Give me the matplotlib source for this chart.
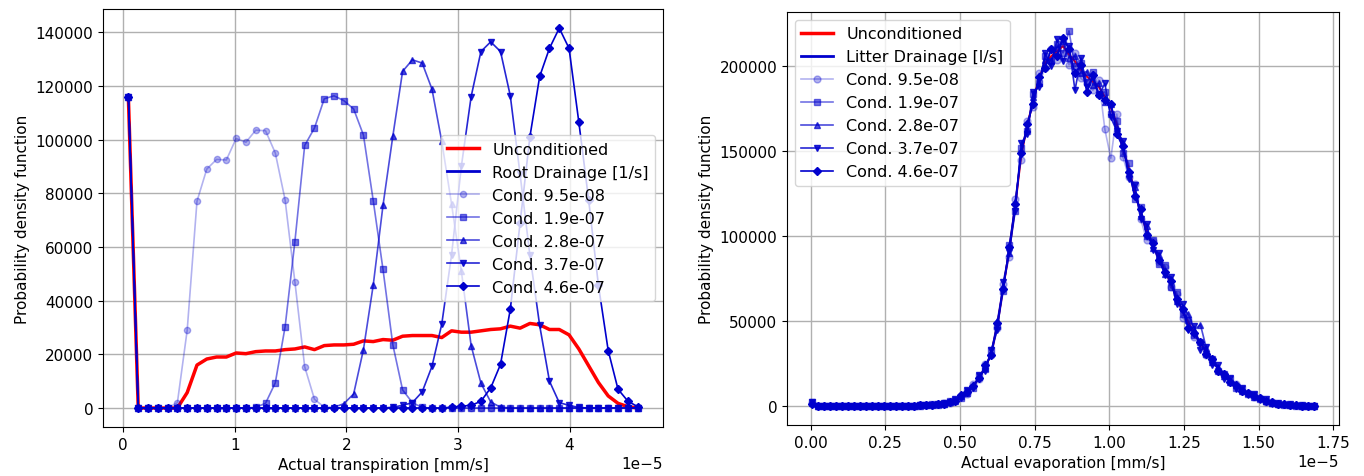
import numpy as np
import matplotlib.pyplot as plt

# conductance values used for the conditioned runs
cond_labels = ['Cond. 9.5e-08', 'Cond. 1.9e-07', 'Cond. 2.8e-07', 'Cond. 3.7e-07', 'Cond. 4.6e-07']
markers = ['o', 's', '^', 'v', 'D']
alphas = [0.3, 0.55, 0.7, 0.85, 1.0]

#############################################################################################
# transpiration pdf (bin centres in mm/s)
x_transp = np.linspace(0.048e-5, 4.61e-5, 53)

transp_uncond = [115000] + [0]*5 + [5750, 16000, 18250, 19000, 19000, 20500, 20250, 21000, 21250, 21250,
                                   21750, 22000, 22750, 21750, 23250, 23500, 23500, 23750, 25000, 24750,
                                   25500, 25250, 26750, 27000, 27000, 27000, 26250, 28750, 28250, 28250,
                                   28750, 29250, 29500, 30500, 29750, 31500, 31000, 29250, 29250, 27250,
                                   22000, 15750, 9500, 4500, 1750, 500, 0]
transp_c1 = [116000] + [0]*4 + [2000, 29000, 77000, 89000, 92600, 92400, 100400, 99000, 103500, 103300,
                               95000, 77500, 47000, 15400, 3250, 300] + [0]*32
transp_c2 = [116000] + [0]*12 + [250, 1750, 9400, 30250, 62000, 97800, 104300, 115200, 116300, 114500,
                                111400, 101700, 77300, 51600, 23600, 6750, 2000, 200] + [0]*22
transp_c3 = [116000] + [0]*20 + [300, 1600, 5250, 21750, 45750, 75500, 101200, 125400, 129700, 128500,
                                118800, 99300, 76000, 51000, 23250, 9250, 2250, 300] + [0]*14
transp_c4 = [116000] + [0]*26 + [300, 1000, 2000, 6000, 15500, 31250, 57000, 90000, 116000, 132800,
                                136400, 132800, 116300, 87000, 57000, 30750, 10000, 2000, 1000, 200] + [0]*6
transp_c5 = [116000] + [0]*32 + [300, 700, 1000, 2500, 7500, 16250, 36750, 69000, 101000, 123500,
                                134000, 141500, 134000, 106500, 77600, 45750, 21400, 7000, 2600, 500]
transp_cond = [transp_c1, transp_c2, transp_c3, transp_c4, transp_c5]

#############################################################################################
# evaporation pdf (bin centres in mm/s)
x_evap = np.linspace(0.005e-5, 1.685e-5, 85)

evap_uncond = [2500, 200] + [0]*13 + [100, 200, 300, 500, 700, 900, 1100] + [
    1500, 2500, 3500, 5500, 8000, 12000, 17000, 23000, 31000, 48000,
    70000, 92000, 118000, 148000, 165000, 180000, 193000, 202000, 206000, 209000,
    212000, 207000, 203000, 198000, 194000, 191000, 188000, 182000, 176000, 166000,
    152000, 140000, 126000, 114000, 103000, 95000, 87000, 80000, 73000, 64000,
    56000, 49000, 43000, 37000, 32000, 27000, 22000, 18000, 15000, 12000,
    9500, 7500, 6000, 4500, 3000, 2000, 1500, 1000, 700, 500,
    300, 200, 100]
evap_c1 = [2000, 0] + [0]*13 + [100, 200, 400, 600, 800, 1000, 1300] + [
    1800, 2000, 3000, 6000, 7000, 13000, 16000, 25000, 30000, 46000,
    72000, 88000, 122000, 145000, 168000, 176000, 196000, 199000, 210000, 204000,
    214000, 201000, 208000, 193000, 190000, 186000, 192000, 163000, 146000, 172000,
    147000, 135000, 131000, 110000, 98000, 97000, 85000, 82000, 70000, 66000,
    52000, 50000, 41000, 38000, 30000, 28000, 21000, 19000, 14000, 13000,
    9000, 8000, 5500, 5000, 2500, 2500, 1200, 1200, 500, 600,
    200, 300, 100]
evap_c2 = [2500, 100] + [0]*13 + [200, 300, 200, 600, 700, 1100, 1000] + [
    1400, 2800, 3800, 5000, 9000, 11000, 18000, 22000, 33000, 47000,
    68000, 95000, 115000, 152000, 162000, 184000, 190000, 206000, 203000, 213000,
    208000, 221000, 200000, 202000, 191000, 197000, 184000, 185000, 172000, 168000,
    149000, 143000, 122000, 117000, 100000, 98000, 84000, 83000, 70000, 67000,
    54000, 51000, 42000, 38000, 31000, 28000, 21000, 19000, 16000, 11000,
    10000, 7000, 6500, 4000, 3200, 1800, 1600, 900, 800, 400,
    400, 100, 200]
evap_c3 = [2000, 0] + [0]*13 + [100, 200, 300, 400, 700, 900, 1200] + [
    1600, 2300, 3300, 6000, 7500, 12500, 17500, 22500, 31500, 50000,
    71000, 90000, 120000, 150000, 163000, 182000, 190000, 204000, 204000, 211000,
    215000, 205000, 206000, 196000, 197000, 189000, 190000, 179000, 178000, 164000,
    155000, 137000, 129000, 112000, 106000, 93000, 89000, 78000, 75000, 62000,
    58000, 54000, 45000, 48000, 34000, 26000, 23000, 18000, 14500, 12500,
    9000, 8000, 5500, 4800, 2800, 2100, 1400, 1100, 600, 500,
    300, 200, 100]
evap_c4 = [2500, 0] + [0]*13 + [200, 100, 400, 500, 600, 1000, 1100] + [
    1700, 2200, 4000, 5000, 9500, 11000, 18500, 21000, 33000, 45000,
    73000, 91000, 115000, 155000, 160000, 185000, 188000, 208000, 200000, 216000,
    203000, 212000, 186000, 205000, 188000, 193000, 183000, 190000, 170000, 162000,
    156000, 134000, 130000, 110000, 107000, 92000, 90000, 77000, 76000, 60000,
    60000, 45000, 47000, 33000, 35000, 24000, 24000, 16000, 16500, 10000,
    11000, 6500, 7000, 3500, 4000, 1500, 2000, 700, 1200, 300,
    500, 100, 200]
evap_c5 = [1500, 0] + [0]*13 + [0, 200, 200, 500, 800, 800, 1300] + [
    1400, 2600, 3200, 6500, 8500, 12000, 16500, 24000, 30000, 49000,
    69000, 94000, 119000, 149000, 166000, 178000, 194000, 199000, 210000, 206000,
    217000, 210000, 196000, 201000, 185000, 195000, 183000, 180000, 178000, 160000,
    153000, 138000, 124000, 116000, 101000, 96000, 86000, 79000, 74000, 63000,
    57000, 46000, 43000, 38000, 31000, 28000, 21000, 19000, 14000, 12500,
    9000, 7800, 5800, 4600, 2900, 2200, 1400, 1100, 600, 500,
    300, 200, 0]
evap_cond = [evap_c1, evap_c2, evap_c3, evap_c4, evap_c5]

####################################################################################################
# plot
plt.rcParams['font.size'] = 11

fig = plt.figure(figsize=(13.64, 4.77), dpi=100)
ax1 = fig.add_axes([0.0755, 0.1027, 0.4106, 0.876])
ax2 = fig.add_axes([0.577, 0.1069, 0.4047, 0.8658])


def draw_panel(ax, x, uncond, conds, drain_label, xlabel, loc, red_lw, msize):
    ax.plot(x, uncond, color='red', lw=red_lw, label='Unconditioned')
    ax.plot([], [], color='mediumblue', lw=2, label=drain_label)
    for vals, lab, m, a in zip(conds, cond_labels, markers, alphas):
        ms = msize - 0.5 if m == 'D' else msize
        ax.plot(x, vals, color='mediumblue', alpha=a, marker=m, ms=ms, lw=1.2, label=lab)
    ax.grid(True, color='#b0b0b0', lw=1)
    ax.set_xlabel(xlabel)
    ax.set_ylabel('Probability density function')
    leg = ax.legend(loc=loc, fontsize=11.5)
    leg.get_lines()[0].set_linewidth(2.5)


draw_panel(ax1, x_transp, transp_uncond, transp_cond, 'Root Drainage [1/s]',
           'Actual transpiration [mm/s]', 'center right', 2.5, 4.5)
draw_panel(ax2, x_evap, evap_uncond, evap_cond, 'Litter Drainage [l/s]',
           'Actual evaporation [mm/s]', 'upper left', 1.5, 5)

plt.savefig('out.png', dpi=100)
plt.close()
